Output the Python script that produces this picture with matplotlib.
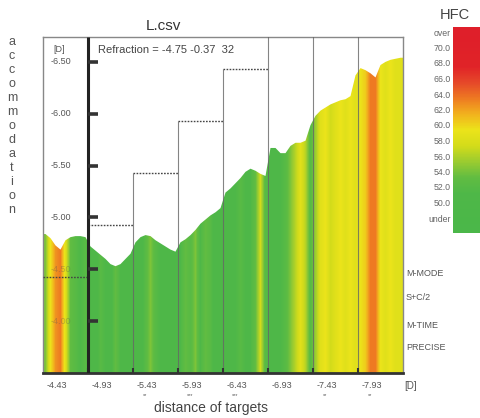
import numpy as np
import matplotlib
matplotlib.use("Agg")
import matplotlib.pyplot as plt
from matplotlib.colors import LinearSegmentedColormap
from matplotlib.patches import Polygon

plt.rcParams['font.family'] = ['Liberation Sans', 'DejaVu Sans']

# ---------------- data ----------------
title = "L.csv"
refraction_text = "Refraction = -4.75 -0.37  32"
target_labels = ["-4.43", "-4.93", "-5.43", "-5.93", "-6.43", "-6.93", "-7.43", "-7.93"]
targets = [-4.43, -4.93, -5.43, -5.93, -6.43, -6.93, -7.43, -7.93]
significance = ["", "", "**", "***", "***", "", "**", "**"]
y_ticks = [-6.50, -6.00, -5.50, -5.00, -4.50, -4.00]
y_tick_labels = ["-6.50", "-6.00", "-5.50", "-5.00", "-4.50", "-4.00"]

# accommodation response, 9 samples per target step
accommodation = [
    -4.84, -4.80, -4.73, -4.69, -4.78, -4.81, -4.82, -4.82, -4.81,
    -4.72, -4.68, -4.64, -4.60, -4.55, -4.53, -4.55, -4.60, -4.65,
    -4.76, -4.81, -4.83, -4.82, -4.78, -4.75, -4.72, -4.69, -4.67,
    -4.76, -4.79, -4.83, -4.88, -4.94, -4.98, -5.02, -5.05, -5.09,
    -5.24, -5.28, -5.33, -5.38, -5.44, -5.47, -5.45, -5.42, -5.40,
    -5.67, -5.67, -5.62, -5.62, -5.69, -5.72, -5.72, -5.74, -5.89,
    -5.98, -6.03, -6.06, -6.09, -6.11, -6.13, -6.14, -6.17, -6.37,
    -6.44, -6.42, -6.39, -6.35, -6.47, -6.50, -6.52, -6.53, -6.54,
]
# high frequency component per sample
hfc = [
    55, 60, 63, 64, 59, 54, 53, 52, 53,
    52, 51, 53, 52, 51, 54, 52, 51, 52,
    52, 51, 53, 55, 53, 52, 51, 52, 51,
    52, 54, 53, 55, 52, 54, 53, 51, 52,
    52, 51, 52, 53, 52, 52, 54, 58, 53,
    52, 51, 52, 53, 55, 57, 59, 57, 53,
    56, 59, 60, 58, 59, 60, 59, 60, 59,
    60, 61, 64, 64, 60, 59, 60, 59, 59,
]

hfc_level_labels = ["over", "70.0", "68.0", "66.0", "64.0", "62.0", "60.0",
                    "58.0", "56.0", "54.0", "52.0", "50.0", "under"]
hfc_level_values = [72, 70, 68, 66, 64, 62, 60, 58, 56, 54, 52, 50, 48]
mode_text = ["M-MODE", "S+C/2", "M-TIME", "PRECISE"]

# ---------------- style ----------------
W, H = 480, 418
fig = plt.figure(figsize=(W / 100, H / 100), dpi=100)
fig.patch.set_facecolor('white')

def fx(px):
    return px / W

def fy(py):
    return 1 - py / H

vmin, vmax = 48, 72
stops = [(48, '#4bb749'), (52, '#4fb848'), (54, '#62bd42'), (56, '#9ccc30'),
         (58, '#d4dc1a'), (60, '#ece41a'), (62, '#f2b21e'), (64, '#ee7a22'),
         (66, '#e6482a'), (68, '#e12428'), (72, '#df1f2a')]
cmap = LinearSegmentedColormap.from_list(
    'hfc', [((v - vmin) / (vmax - vmin), c) for v, c in stops])

n_seg = len(targets)
spp = 9
xmax = n_seg * spp
ybot, ytop = -3.5, -6.74

ax = fig.add_axes([fx(43), fy(373), fx(403) - fx(43), fy(37) - fy(373)])
ax.set_xlim(0, xmax)
ax.set_ylim(ybot, ytop)

# filled response coloured by HFC
xs = np.arange(len(accommodation)) + 0.5
acc = np.array(accommodation)
verts = [(0, ybot), (0, acc[0])] + list(zip(xs, acc)) + [(xmax, acc[-1]), (xmax, ybot)]
clip = Polygon(verts, closed=True, facecolor='none', edgecolor='none')
ax.add_patch(clip)
im = ax.imshow(np.array(hfc, dtype=float)[None, :], cmap=cmap, vmin=vmin, vmax=vmax,
               extent=(0, xmax, ybot, ytop), aspect='auto', interpolation='bilinear',
               zorder=1)
im.set_clip_path(clip)

# target stairs
bounds = [i * spp for i in range(n_seg + 1)]
for i, t in enumerate(targets):
    ax.hlines(t, bounds[i], bounds[i + 1], colors='#444444', linestyles=(0, (1.2, 1.0)),
              lw=1.0, zorder=3)
for i in range(2, n_seg):
    top = min(targets[i - 1], targets[i])
    ax.vlines(bounds[i], ybot, top, colors='#666666', lw=0.8, alpha=0.8, zorder=3)
ax.vlines(bounds[1:-1], ybot, ybot - 0.05, colors='#333333', lw=1.5, zorder=4)

# main axis line inside
ax.vlines(bounds[1], ybot, ytop, colors='#222222', lw=2.2, zorder=5)
ax.hlines(y_ticks, bounds[1], bounds[1] + 1.9, colors='#333333', lw=2.6, zorder=5)
for v, lab in zip(y_ticks, y_tick_labels):
    alpha = 1.0 if v < -4.75 else 0.35
    ax.text(3.6, v, lab, ha='center', va='center', fontsize=6.5, color='#555555',
            alpha=alpha, zorder=6)
ax.text(3.2, -6.62, "[D]", ha='center', va='center', fontsize=6.5, color='#555555')

ax.text(11.0, -6.615, refraction_text, ha='left', va='center', fontsize=8,
        color='#444444', zorder=6)

# spines
for s in ['top', 'left', 'right']:
    ax.spines[s].set_color('#888888')
    ax.spines[s].set_linewidth(1.0)
ax.spines['bottom'].set_color('#333333')
ax.spines['bottom'].set_linewidth(2.0)
ax.set_yticks([])
ax.set_xticks([b + 0.7 for b in bounds[:-1]])
ax.set_xticklabels(target_labels, fontsize=6.5, color='#555555')
ax.tick_params(axis='x', length=0, pad=6)
for lab in ax.get_xticklabels():
    lab.set_horizontalalignment('left')
for i, s in enumerate(significance):
    if s:
        ax.text(bounds[i] + 2.5, -3.5 + 0.215, s, ha='center', va='center',
                fontsize=4, color='#555555', clip_on=False)

# colour bar
cax = fig.add_axes([fx(453), fy(233), fx(480) - fx(453), fy(27) - fy(233)])
cax.imshow(np.array(hfc_level_values, dtype=float)[:, None], cmap=cmap, vmin=vmin,
           vmax=vmax, aspect='auto', interpolation='bilinear')
cax.axis('off')
for i, lab in enumerate(hfc_level_labels):
    py = 33 + i * (219 - 33) / (len(hfc_level_labels) - 1)
    fig.text(fx(451), fy(py), lab, ha='right', va='center', fontsize=6.3,
             color='#666666')
fig.text(fx(455), fy(15), "HFC", ha='center', va='center', fontsize=10.5,
         color='#444444')

# other texts
fig.text(fx(163), fy(26), title, ha='center', va='center', fontsize=11, color='#333333')
for i, ch in enumerate("accommodation"):
    fig.text(fx(12), fy(42 + i * 14), ch, ha='center', va='center', fontsize=9,
             color='#555555')
fig.text(fx(211), fy(408), "distance of targets", ha='center', va='center',
         fontsize=10, color='#444444')
fig.text(fx(411), fy(386), "[D]", ha='center', va='center', fontsize=7, color='#555555')
for py, t in zip([273, 297, 326, 347], mode_text):
    fig.text(fx(406), fy(py), t, ha='left', va='center', fontsize=6.5, color='#555555')

fig.savefig("out.png", dpi=100)
